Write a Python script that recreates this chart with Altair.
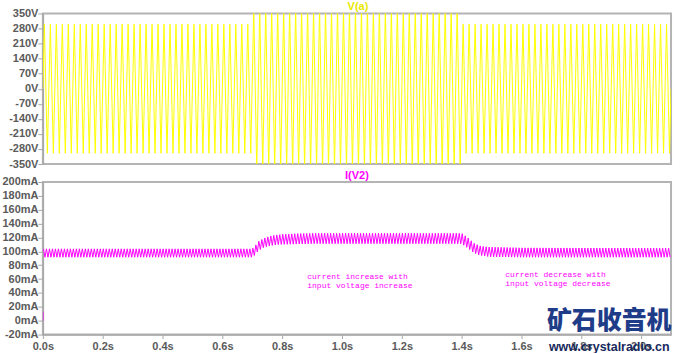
import altair as alt
import numpy as np
import pandas as pd

# ---- V(a): 50 Hz input, peak amplitude per time segment (V) ----
v_seg_start = [0.00, 0.70, 1.40]
v_seg_end = [0.70, 1.40, 2.10]
v_seg_peak = [300, 372, 300]
v_half_period = 0.01

# ---- I(V2): ripple envelope (mA) ----
i_env_t = [0.000, 0.700, 0.710, 0.720, 0.740, 0.760, 0.780, 0.800, 0.850, 0.900,
           1.390, 1.400, 1.420, 1.440, 1.460, 1.480, 1.500, 1.600, 2.100]
i_env_hi = [103.6, 103.6, 108.0, 114.0, 119.0, 122.0, 123.5, 124.5, 125.5, 126.0,
            126.0, 126.0, 120.0, 112.0, 108.0, 106.5, 106.0, 105.0, 104.5]
i_env_lo = [91.5, 91.5, 95.0, 101.0, 106.0, 108.0, 109.5, 110.0, 110.5, 111.0,
            111.0, 111.0, 105.0, 98.0, 94.5, 93.0, 92.0, 91.5, 91.5]
i_half_ripple = 0.005
spike_t = [0.0005, 0.0005]
spike_i = [0.0, 13.0]

# ---- ticks / labels ----
v_ticks = [-350, -280, -210, -140, -70, 0, 70, 140, 210, 280, 350]
i_ticks = [-20, 0, 20, 40, 60, 80, 100, 120, 140, 160, 180, 200]
t_ticks = [0.0, 0.2, 0.4, 0.6, 0.8, 1.0, 1.2, 1.4, 1.6, 1.8, 2.0]
notes = [
    {"t": 0.884, "i": 63.5, "txt": "current increase with"},
    {"t": 0.884, "i": 49.5, "txt": "input voltage increase"},
    {"t": 1.546, "i": 66.5, "txt": "current decrease with"},
    {"t": 1.546, "i": 52.5, "txt": "input voltage decrease"},
]

# build the voltage zigzag from the read peak values
vt, vv = [0.0], [0.0]
for s, e, p in zip(v_seg_start, v_seg_end, v_seg_peak):
    n = int(round((e - s) / v_half_period))
    for j in range(n):
        vt.append(s + (j + 0.5) * v_half_period)
        vv.append(p if j % 2 == 0 else -p)
vt.append(2.10)
vv.append(0.0)
vdf = pd.DataFrame({"t": vt, "v": vv})

# current ripple between the read envelope values
it = np.arange(0.002, 2.1, i_half_ripple)
hi = np.interp(it, i_env_t, i_env_hi)
lo = np.interp(it, i_env_t, i_env_lo)
iv = np.where(np.arange(len(it)) % 2 == 0, hi, lo)
idf = pd.DataFrame({"t": it, "i": iv, "g": "main"})
sdf = pd.DataFrame({"t": spike_t, "i": spike_i, "g": "spike"})
idf = pd.concat([sdf, idf], ignore_index=True)

W = 630
GRAY = "#5a5a5a"
AXC = "#a8a8a8"
COMMON = dict(labelFont="Liberation Sans", labelFontSize=11, labelFontWeight="bold",
              labelColor=GRAY, tickColor=AXC, domainColor=AXC, domainWidth=1.5,
              grid=False, title=None, labelOverlap=False, labelFlush=False, labelBound=False)

xs = alt.Scale(domain=[0, 2.1], nice=False, zero=False)
ys_v = alt.Scale(domain=[-350, 350], nice=False)
ys_i = alt.Scale(domain=[-20, 200], nice=False)

v_axis = alt.Axis(values=v_ticks, labelExpr="datum.value + 'V'", tickSize=5, labelPadding=0,
                  minExtent=37, maxExtent=37, **COMMON)
i_axis = alt.Axis(values=i_ticks, labelExpr="datum.value + 'mA'", tickSize=5, labelPadding=0,
                  minExtent=37, maxExtent=37, **COMMON)
t_axis = alt.Axis(values=t_ticks, labelExpr="format(datum.value, '.1f') + 's'",
                  tickSize=4, labelPadding=2, **COMMON)

top_line = alt.Chart(vdf).mark_line(color="#ffff00", strokeWidth=1, clip=True).encode(
    x=alt.X("t:Q", scale=xs, axis=None),
    y=alt.Y("v:Q", scale=ys_v, axis=v_axis),
)
top_title = alt.Chart(pd.DataFrame({"s": ["V(a)"]})).mark_text(
    font="Liberation Sans", fontSize=11, fontWeight="bold", color="#e8e800",
    baseline="middle", align="center"
).encode(x=alt.value(316), y=alt.value(-6), text="s:N")
top = alt.layer(top_line, top_title).properties(width=W, height=151)

bot_line = alt.Chart(idf).mark_line(color="#ff00ff", strokeWidth=1, clip=True).encode(
    x=alt.X("t:Q", scale=xs, axis=t_axis),
    y=alt.Y("i:Q", scale=ys_i, axis=i_axis),
    detail="g:N",
)
bot_title = alt.Chart(pd.DataFrame({"s": ["I(V2)"]})).mark_text(
    font="Liberation Sans", fontSize=11, fontWeight="bold", color="#ff00ff",
    baseline="middle", align="center"
).encode(x=alt.value(315), y=alt.value(-6), text="s:N")
bot_notes = alt.Chart(pd.DataFrame(notes)).mark_text(
    font="Liberation Mono", fontSize=8, color="#ff00ff", align="left", baseline="middle"
).encode(x=alt.X("t:Q", scale=xs, axis=t_axis), y=alt.Y("i:Q", scale=ys_i, axis=i_axis),
         text="txt:N")
wm1 = alt.Chart(pd.DataFrame({"s": ["矿石收音机"]})).mark_text(
    font="Noto Sans CJK SC", fontSize=25, fontWeight=900, color="#1f3c88",
    align="center", baseline="middle"
).encode(x=alt.value(568), y=alt.value(139), text="s:N")
wm2 = alt.Chart(pd.DataFrame({"s": ["www.crystalradio.cn"]})).mark_text(
    font="Liberation Sans", fontSize=12.5, fontWeight="bold", color="#16285c",
    align="center", baseline="middle"
).encode(x=alt.value(568), y=alt.value(166), text="s:N")
bot = alt.layer(bot_line, bot_title, bot_notes, wm1, wm2).properties(width=W, height=153)

chart = alt.vconcat(top, bot, spacing=18, bounds="flush").properties(
    padding={"left": 0, "top": 0, "right": 7, "bottom": 0},
    background="white",
).configure_view(stroke="#b4b4b4", strokeWidth=2)

chart.save("out.html", embed_options={"renderer": "svg", "actions": False})
